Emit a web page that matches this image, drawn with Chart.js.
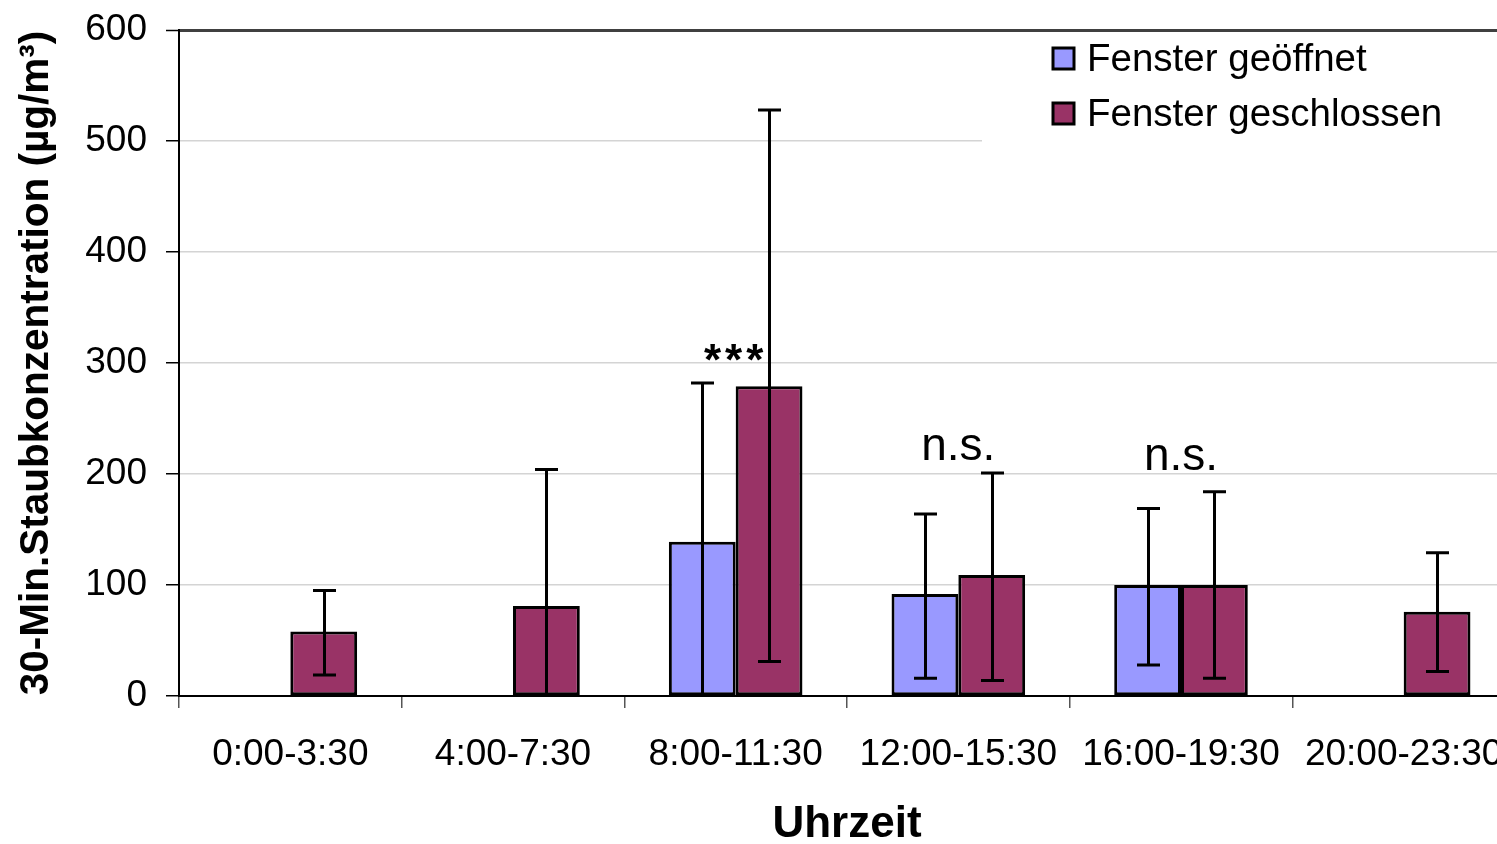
<!DOCTYPE html>
<html>
<head>
<meta charset="utf-8">
<script src="https://cdn.jsdelivr.net/npm/chart.js@4/dist/chart.umd.min.js"></script>
<style>
  html, body { margin: 0; padding: 0; background: #fff; overflow: hidden; }
  #wrap { width: 1516px; height: 844px; }
  canvas { display: block; }
</style>
</head>
<body>
<div id="wrap"><canvas id="c" width="1516" height="844"></canvas></div>
<script>
// ---- data ----
const categories = ['0:00-3:30', '4:00-7:30', '8:00-11:30', '12:00-15:30', '16:00-19:30', '20:00-23:30'];
const seriesNames = ['Fenster geöffnet', 'Fenster geschlossen'];
const openValues = [null, null, 139, 92, 100, null];
const closedValues = [58, 81, 279, 109, 100, 76];
const openErrHigh = [null, null, 282, 164, 169, null];
const openErrLow = [null, null, -4, 16, 28, null];
const closedErrHigh = [95, 204, 528, 201, 184, 129];
const closedErrLow = [19, -42, 31, 14, 16, 22];
const yTicks = [0, 100, 200, 300, 400, 500, 600];
const annotationTexts = ['***', 'n.s.', 'n.s.'];
const annotationCategory = [2, 3, 4];
const annotationValue = [289, 213, 204];
const yTitle = '30-Min.Staubkonzentration (µg/m³)';
const xTitle = 'Uhrzeit';

const FONT = "'Liberation Sans', Arial, sans-serif";
const openColor = '#9999FF';
const closedColor = '#993366';

const errorBarPlugin = {
  id: 'errorBars',
  beforeDatasetsDraw(chart) {
    // white legend background covering grid lines
    const ctx = chart.ctx;
    const top = chart.chartArea.top + 4;
    ctx.save();
    ctx.fillStyle = '#ffffff';
    ctx.fillRect(982, top, chart.width - 982, 150 - top);
    ctx.restore();
  },
  afterDatasetsDraw(chart) {
    const ctx = chart.ctx;
    const y = chart.scales.y;
    const highs = [openErrHigh, closedErrHigh];
    const lows = [openErrLow, closedErrLow];
    ctx.save();
    ctx.strokeStyle = '#000';
    ctx.lineWidth = 3;
    ctx.lineCap = 'butt';
    for (let d = 0; d < 2; d++) {
      const meta = chart.getDatasetMeta(d);
      meta.data.forEach((bar, j) => {
        const hi = highs[d][j], lo = lows[d][j];
        if (hi == null) return;
        const x = Math.round(bar.x) + 0.5;
        const yHi = y.getPixelForValue(hi);
        const yLo = y.getPixelForValue(Math.max(lo, 0));
        ctx.beginPath();
        ctx.moveTo(x, yHi);
        ctx.lineTo(x, yLo);
        ctx.moveTo(x - 11.5, yHi);
        ctx.lineTo(x + 11.5, yHi);
        if (lo > 0) {
          ctx.moveTo(x - 11.5, yLo);
          ctx.lineTo(x + 11.5, yLo);
        }
        ctx.stroke();
      });
    }
    // annotations
    ctx.fillStyle = '#000';
    ctx.textAlign = 'center';
    ctx.textBaseline = 'alphabetic';
    annotationTexts.forEach((t, i) => {
      const x = chart.scales.x.getPixelForValue(annotationCategory[i]);
      if (t === '***') {
        ctx.font = 'bold 44px ' + FONT;
        ctx.letterSpacing = '4px';
      } else {
        ctx.font = '46px ' + FONT;
        ctx.letterSpacing = '0px';
      }
      ctx.fillText(t, x, y.getPixelForValue(annotationValue[i]));
    });
    ctx.letterSpacing = '0px';
    ctx.restore();
  },
  afterDraw(chart) {
    // legend
    const ctx = chart.ctx;
    const colors = [openColor, closedColor];
    ctx.save();
    ctx.font = '38.5px ' + FONT;
    ctx.textAlign = 'left';
    ctx.textBaseline = 'middle';
    seriesNames.forEach((name, i) => {
      const cy = 59 + i * 55;
      ctx.fillStyle = colors[i];
      ctx.fillRect(1053, cy - 11, 21, 21);
      ctx.strokeStyle = '#000';
      ctx.lineWidth = 3;
      ctx.strokeRect(1053, cy - 11, 21, 21);
      ctx.fillStyle = '#000';
      ctx.fillText(name, 1087, cy + 1);
    });
    ctx.restore();
  }
};

new Chart(document.getElementById('c'), {
  type: 'bar',
  data: {
    labels: categories,
    datasets: [
      { label: seriesNames[0], data: openValues, backgroundColor: openColor, borderColor: '#000', borderWidth: 3, borderSkipped: false },
      { label: seriesNames[1], data: closedValues, backgroundColor: closedColor, borderColor: '#000', borderWidth: 3, borderSkipped: false }
    ]
  },
  options: {
    responsive: false,
    animation: false,
    devicePixelRatio: 1,
    layout: { padding: { top: 30, right: 1, left: 0, bottom: 0 } },
    datasets: { bar: { categoryPercentage: 0.6, barPercentage: 1.0 } },
    plugins: { legend: { display: false }, tooltip: { enabled: false } },
    scales: {
      x: {
        grid: { display: true, drawOnChartArea: false, offset: true, tickLength: 12, tickColor: '#555', lineWidth: 1.5 },
        border: { color: '#000', width: 2 },
        ticks: { color: '#000', font: { family: FONT, size: 37 }, padding: 25, maxRotation: 0 },
        title: { display: true, text: xTitle, color: '#000', font: { family: FONT, size: 44, weight: 'bold', lineHeight: 0.86 }, padding: { top: 0, bottom: 0 } },
        afterFit(s) { s.height = 148; s.paddingLeft = 0; s.paddingRight = 0; }
      },
      y: {
        min: 0, max: 600,
        afterBuildTicks(s) { s.ticks = yTicks.map(v => ({ value: v })); },
        grid: {
          color: (c) => c.tick && c.tick.value === 600 ? '#404040' : '#d4d4d4',
          lineWidth: (c) => c.tick && c.tick.value === 600 ? 3 : 1.5,
          tickColor: '#000', tickLength: 13, tickWidth: 1.5
        },
        border: { color: '#000', width: 2 },
        ticks: { color: '#000', font: { family: FONT, size: 37 }, padding: 19 },
        title: { display: true, text: yTitle, color: '#000', font: { family: FONT, size: 40.5, weight: 'bold', lineHeight: 1.2 }, padding: { top: 13, bottom: 0 } },
        afterFit(s) { s.width = 179; s.paddingTop = 0; s.paddingBottom = 0; }
      }
    }
  },
  plugins: [errorBarPlugin]
});
</script>
</body>
</html>
